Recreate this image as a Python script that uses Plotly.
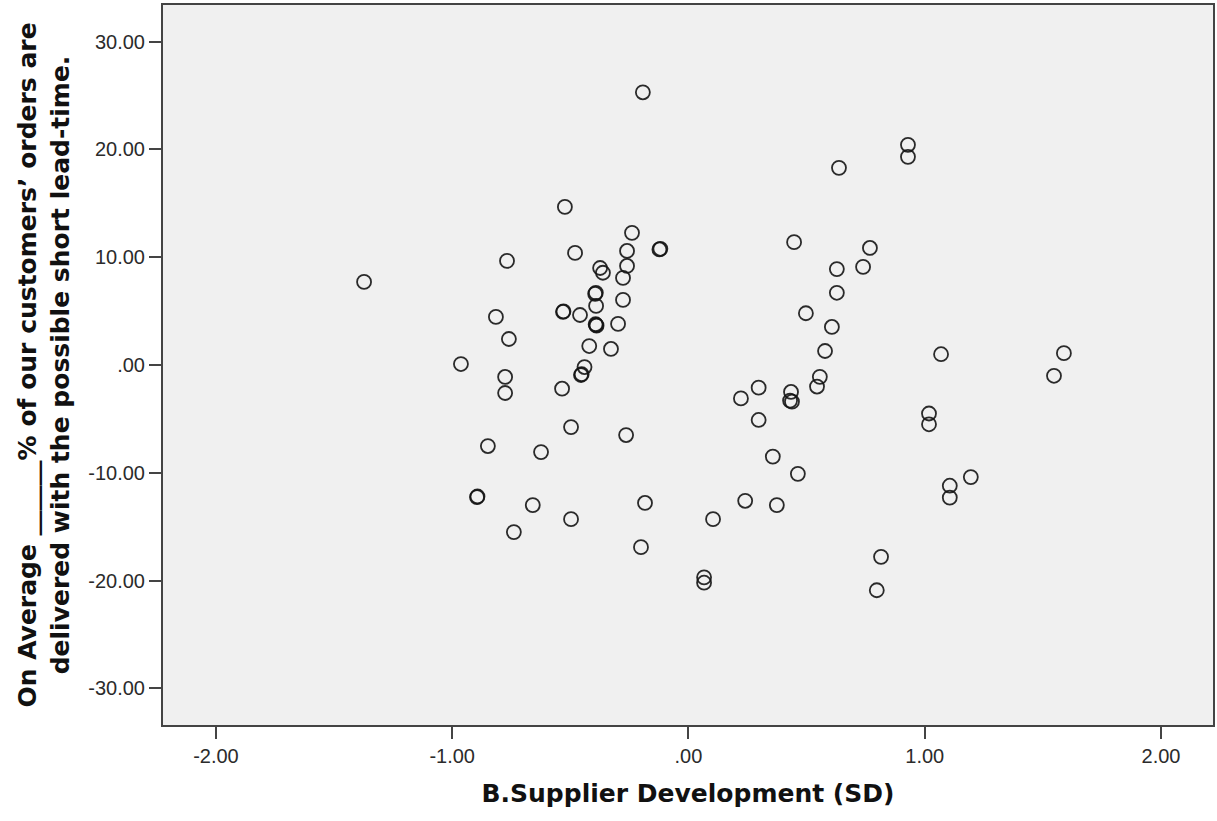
import plotly.graph_objects as go

# Standardised supplier-development score per respondent
sd_scores = [
    -1.373, -0.963, -0.895, -0.893, -0.849, -0.815, -0.776, -0.776, -0.768, -0.760,
    -0.739, -0.659, -0.624, -0.535, -0.531, -0.529, -0.523, -0.497, -0.497, -0.480,
    -0.459, -0.455, -0.452, -0.440, -0.420, -0.395, -0.392, -0.391, -0.391, -0.389,
    -0.393, -0.374, -0.362, -0.328, -0.298, -0.277, -0.277, -0.264, -0.260, -0.260,
    -0.239, -0.201, -0.193, -0.184, -0.123, -0.119, 0.066, 0.066, 0.104, 0.222,
    0.240, 0.297, 0.297, 0.357, 0.374, 0.434, 0.430, 0.438, 0.447, 0.463,
    0.497, 0.544, 0.556, 0.578, 0.607, 0.628, 0.628, 0.637, 0.739, 0.768,
    0.797, 0.815, 0.929, 0.929, 1.018, 1.018, 1.069, 1.106, 1.106, 1.195,
    1.547, 1.589,
]

# Share of orders delivered within the short lead-time (centred, %)
lead_time_pct = [
    7.71, 0.09, -12.26, -12.20, -7.52, 4.46, -1.11, -2.60, 9.66, 2.41,
    -15.50, -13.00, -8.08, -2.20, 4.92, 4.98, 14.67, -5.76, -14.30, 10.40,
    4.64, -0.93, -0.86, -0.19, 1.76, 6.60, 6.70, 5.48, 3.71, 3.65,
    3.78, 9.00, 8.56, 1.49, 3.81, 8.08, 6.04, -6.50, 10.58, 9.19,
    12.26, -16.90, 25.30, -12.80, 10.72, 10.78, -19.70, -20.20, -14.30, -3.10,
    -12.60, -2.10, -5.10, -8.50, -13.00, -2.50, -3.30, -3.40, 11.40, -10.10,
    4.80, -2.00, -1.10, 1.30, 3.53, 8.90, 6.70, 18.29, 9.10, 10.86,
    -20.90, -17.80, 20.43, 19.31, -4.50, -5.50, 1.00, -11.20, -12.30, -10.40,
    -1.00, 1.10,
]

x_tick_vals = [-2, -1, 0, 1, 2]
x_tick_text = ["-2.00", "-1.00", ".00", "1.00", "2.00"]
y_tick_vals = [30, 20, 10, 0, -10, -20, -30]
y_tick_text = ["30.00", "20.00", "10.00", ".00", "-10.00", "-20.00", "-30.00"]

fig = go.Figure(
    go.Scatter(
        x=sd_scores,
        y=lead_time_pct,
        mode="markers",
        marker=dict(
            symbol="circle-open",
            size=14,
            color="rgba(20,20,20,0.9)",
            line=dict(width=1.8, color="rgba(20,20,20,0.9)"),
        ),
        hoverinfo="x+y",
    )
)

axis_common = dict(
    showgrid=False,
    zeroline=False,
    showline=True,
    linecolor="#444444",
    linewidth=2,
    mirror=True,
    ticks="outside",
    ticklen=12,
    tickwidth=1.8,
    tickcolor="#444444",
    tickfont=dict(family="Liberation Sans, Arial, sans-serif", size=20, color="#2b2b2b"),
)

title_font = dict(family="DejaVu Sans, sans-serif", size=25, color="#111111")

fig.update_xaxes(
    **axis_common,
    range=[-2.224, 2.22],
    tickvals=x_tick_vals,
    ticktext=x_tick_text,
    title=dict(
        text="<b>B.Supplier Development (SD)</b>",
        font=title_font,
        standoff=18,
    ),
)

fig.update_yaxes(
    **axis_common,
    range=[-33.4, 33.4],
    tickvals=y_tick_vals,
    ticktext=y_tick_text,
    title=dict(
        text="<b>On Average ______% of our customers’ orders are<br>delivered with the possible short lead-time.</b>",
        font=title_font,
        standoff=12,
    ),
)

fig.update_layout(
    width=1217,
    height=821,
    margin=dict(l=163, r=4, t=5, b=96, autoexpand=False),
    paper_bgcolor="white",
    plot_bgcolor="#f0f0f0",
    showlegend=False,
)

fig.write_html("out.html")
